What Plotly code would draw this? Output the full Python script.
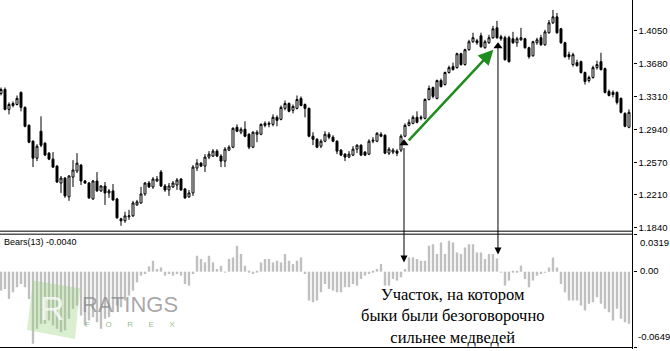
import plotly.graph_objects as go

W, H = 670, 351
def px(x):
    return x / W
def py(y):
    return 1 - y / H

# ---------------- data ----------------
opens = [1.3344,1.3389,1.3166,1.3210,1.3221,1.3356,1.3188,1.2987,1.2809,1.2619,
 1.2921,1.2786,1.2675,1.2608,1.2530,1.2340,1.2396,1.2185,1.2407,1.2475,
 1.2541,1.2363,1.2340,1.2162,1.2363,1.2252,1.2307,1.2229,1.2252,1.2162,
 1.1939,1.1917,1.1961,1.1972,1.2095,1.2117,1.2218,1.2340,1.2296,1.2363,
 1.2463,1.2307,1.2263,1.2296,1.2318,1.2385,1.2274,1.2185,1.2229,1.2508,
 1.2563,1.2530,1.2631,1.2642,1.2698,1.2642,1.2586,1.2709,1.2742,1.2965,
 1.2910,1.2943,1.2887,1.2742,1.2887,1.2887,1.2987,1.2998,1.2998,1.3077,
 1.3054,1.3177,1.3232,1.3155,1.3177,1.3289,1.3221,1.3177,1.2865,1.2831,
 1.2753,1.2809,1.2887,1.2854,1.2809,1.2709,1.2664,1.2631,1.2653,1.2720,
 1.2764,1.2687,1.2664,1.2809,1.2809,1.2887,1.2876,1.2675,1.2687,1.2698,
 1.2709,1.2865,1.2987,1.3009,1.3077,1.3065,1.3065,1.3277,1.3411,1.3289,
 1.3489,1.3444,1.3579,1.3645,1.3634,1.3790,1.3668,1.3835,1.3924,1.3935,
 1.3991,1.3857,1.3913,1.3969,1.4080,1.3980,1.3969,1.3969,1.3957,1.3913,
 1.3946,1.3957,1.3857,1.3767,1.3913,1.3969,1.3890,1.4025,1.4136,1.4203,
 1.4069,1.3913,1.3779,1.3668,1.3690,1.3701,1.3579,1.3489,1.3523,1.3634,
 1.3701,1.3623,1.3367,1.3356,1.3356,1.3289,1.3121,1.2965]

highs = [1.3411,1.3411,1.3244,1.3255,1.3322,1.3367,1.3199,1.2998,1.2820,1.2775,
 1.3088,1.2798,1.2687,1.2687,1.2541,1.2419,1.2407,1.2430,1.2597,1.2675,
 1.2553,1.2374,1.2352,1.2374,1.2463,1.2318,1.2352,1.2274,1.2329,1.2174,
 1.1950,1.2018,1.2040,1.2140,1.2151,1.2296,1.2352,1.2363,1.2407,1.2419,
 1.2486,1.2329,1.2340,1.2363,1.2396,1.2396,1.2285,1.2263,1.2541,1.2608,
 1.2575,1.2664,1.2698,1.2720,1.2720,1.2664,1.2742,1.2764,1.2965,1.2998,
 1.2965,1.3032,1.2898,1.2921,1.2932,1.3009,1.3032,1.3032,1.3110,1.3099,
 1.3210,1.3266,1.3244,1.3221,1.3322,1.3311,1.3232,1.3188,1.2910,1.2842,
 1.2831,1.2921,1.2910,1.2876,1.2820,1.2720,1.2675,1.2698,1.2753,1.2775,
 1.2775,1.2698,1.2831,1.2854,1.2910,1.2910,1.2887,1.2742,1.2731,1.2720,
 1.2887,1.3009,1.3054,1.3099,1.3144,1.3099,1.3289,1.3433,1.3422,1.3500,
 1.3511,1.3590,1.3656,1.3690,1.3801,1.3801,1.3846,1.3946,1.4025,1.3957,
 1.4025,1.3946,1.4002,1.4102,1.4158,1.4002,1.3991,1.3991,1.4035,1.3980,
 1.4080,1.3969,1.3868,1.3935,1.3969,1.4002,1.4058,1.4169,1.4281,1.4247,
 1.4080,1.3924,1.3812,1.3801,1.3723,1.3712,1.3590,1.3545,1.3656,1.3712,
 1.3801,1.3634,1.3389,1.3378,1.3367,1.3300,1.3133,1.3166]

lows = [1.3322,1.3155,1.3110,1.3188,1.3210,1.3144,1.2965,1.2786,1.2519,1.2586,
 1.2742,1.2642,1.2597,1.2508,1.2340,1.2229,1.2174,1.2140,1.2296,1.2452,
 1.2318,1.2329,1.2162,1.2151,1.2241,1.2241,1.2095,1.2174,1.2140,1.1939,
 1.1861,1.1894,1.1928,1.1961,1.2084,1.2106,1.2196,1.2285,1.2274,1.2352,
 1.2296,1.2241,1.2196,1.2285,1.2263,1.2252,1.2162,1.2174,1.2196,1.2475,
 1.2519,1.2463,1.2608,1.2631,1.2631,1.2519,1.2519,1.2698,1.2731,1.2910,
 1.2887,1.2854,1.2720,1.2731,1.2798,1.2876,1.2965,1.2965,1.2976,1.2976,
 1.3043,1.3155,1.3133,1.3121,1.3166,1.3199,1.3077,1.2854,1.2764,1.2731,
 1.2731,1.2798,1.2831,1.2798,1.2664,1.2642,1.2586,1.2619,1.2642,1.2675,
 1.2642,1.2642,1.2653,1.2786,1.2798,1.2854,1.2664,1.2653,1.2664,1.2642,
 1.2687,1.2854,1.2976,1.2998,1.3009,1.3043,1.3054,1.3266,1.3289,1.3277,
 1.3411,1.3433,1.3567,1.3601,1.3623,1.3656,1.3656,1.3824,1.3913,1.3890,
 1.3857,1.3846,1.3901,1.3957,1.3957,1.3935,1.3712,1.3690,1.3901,1.3868,
 1.3935,1.3846,1.3734,1.3756,1.3890,1.3879,1.3879,1.4013,1.4124,1.4013,
 1.3901,1.3745,1.3723,1.3645,1.3645,1.3567,1.3444,1.3467,1.3511,1.3612,
 1.3601,1.3344,1.3311,1.3300,1.3221,1.3121,1.2965,1.2954]

closes = [1.3389,1.3166,1.3221,1.3232,1.3289,1.3188,1.2976,1.2798,1.2619,1.2753,
 1.2764,1.2653,1.2608,1.2519,1.2352,1.2396,1.2196,1.2419,1.2486,1.2563,
 1.2363,1.2340,1.2174,1.2363,1.2252,1.2307,1.2229,1.2252,1.2151,1.1950,
 1.1917,1.1972,1.1972,1.2117,1.2129,1.2218,1.2340,1.2296,1.2385,1.2385,
 1.2307,1.2263,1.2307,1.2340,1.2374,1.2263,1.2174,1.2229,1.2519,1.2563,
 1.2530,1.2631,1.2664,1.2698,1.2642,1.2586,1.2720,1.2742,1.2954,1.2921,
 1.2943,1.2865,1.2742,1.2910,1.2910,1.2998,1.3009,1.3009,1.3077,1.3043,
 1.3188,1.3232,1.3144,1.3199,1.3277,1.3210,1.3177,1.2865,1.2831,1.2742,
 1.2809,1.2887,1.2854,1.2809,1.2698,1.2653,1.2631,1.2664,1.2720,1.2764,
 1.2653,1.2653,1.2809,1.2820,1.2898,1.2865,1.2675,1.2720,1.2709,1.2675,
 1.2865,1.2987,1.3021,1.3077,1.3021,1.3077,1.3277,1.3400,1.3311,1.3489,
 1.3422,1.3579,1.3634,1.3612,1.3790,1.3668,1.3835,1.3924,1.3969,1.3913,
 1.3868,1.3924,1.3969,1.4069,1.3969,1.3957,1.3723,1.3701,1.3913,1.3957,
 1.3969,1.3857,1.3756,1.3924,1.3946,1.3890,1.4035,1.4136,1.4203,1.4025,
 1.3913,1.3756,1.3756,1.3779,1.3656,1.3579,1.3478,1.3523,1.3634,1.3668,
 1.3612,1.3356,1.3322,1.3333,1.3244,1.3133,1.2976,1.3133]

bears = [-0.0163,-0.0149,-0.0235,-0.0177,-0.0134,-0.0106,-0.0134,-0.0235,-0.0621,-0.0492,
 -0.0449,-0.0449,-0.0420,-0.0463,-0.0492,-0.0521,-0.0506,-0.0406,-0.0320,-0.0292,
 -0.0378,-0.0463,-0.0420,-0.0392,-0.0435,-0.0492,-0.0406,-0.0392,-0.0349,-0.0292,
 -0.0306,-0.0249,-0.0206,-0.0163,-0.0092,-0.0034,-0.0020,0.0046,0.0094,0.0023,
 0.0037,-0.0034,-0.0020,-0.0034,-0.0020,-0.0034,-0.0106,-0.0120,-0.0020,0.0137,
 0.0109,0.0080,0.0137,0.0080,0.0023,0.0051,-0.0006,0.0109,0.0123,0.0223,
 0.0152,0.0051,0.0009,-0.0020,0.0009,0.0080,0.0109,0.0109,0.0080,0.0094,
 0.0080,0.0152,0.0094,0.0066,0.0094,0.0123,-0.0020,-0.0249,-0.0263,-0.0249,
 -0.0177,-0.0106,-0.0149,-0.0163,-0.0177,-0.0177,-0.0134,-0.0134,-0.0106,-0.0120,
 -0.0063,-0.0034,-0.0020,0.0009,0.0023,0.0066,-0.0120,-0.0120,-0.0063,-0.0077,
 -0.0049,0.0023,0.0123,0.0123,0.0109,0.0094,0.0094,0.0223,0.0237,0.0152,
 0.0252,0.0152,0.0266,0.0252,0.0166,0.0152,0.0209,0.0237,0.0237,0.0166,
 0.0166,0.0109,0.0152,0.0152,0.0114,-0.0006,-0.0120,-0.0077,0.0009,0.0009,
 0.0051,-0.0063,-0.0134,-0.0077,-0.0034,-0.0020,-0.0006,0.0037,0.0123,0.0037,
 -0.0106,-0.0177,-0.0249,-0.0249,-0.0249,-0.0292,-0.0335,-0.0277,-0.0263,-0.0220,
 -0.0277,-0.0320,-0.0349,-0.0420,-0.0320,-0.0406,-0.0435,-0.0449]

bar_index = list(range(len(opens)))

price_ticks = [1.4050, 1.3680, 1.3310, 1.2940, 1.2570, 1.2210, 1.1840]
price_tick_labels = ["1.4050", "1.3680", "1.3310", "1.2940", "1.2570", "1.2210", "1.1840"]
bears_max = 0.0319
bears_min = -0.0649
bears_title = "Bears(13) -0.0040"

signal_x = [100.75, 124.25]
signal_y = [1.2786, 1.3874]
trend_x = [101.6, 123.1]
trend_y = [1.2801, 1.3835]
note_text = "Участок, на котором<br>быки были безоговорочно<br>сильнее медведей"

# ---------------- figure ----------------
AX_RIGHT = px(632.5)
XRANGE = [-0.25, 157.88]
FONT = "Liberation Sans, Arial, sans-serif"
SP = "&nbsp;" * 7

fig = go.Figure()
fig.add_trace(go.Candlestick(
    x=bar_index, open=opens, high=highs, low=lows, close=closes,
    xaxis="x", yaxis="y",
    increasing=dict(line=dict(color="black", width=1), fillcolor="white"),
    decreasing=dict(line=dict(color="black", width=1), fillcolor="black"),
    whiskerwidth=0, showlegend=False, hoverinfo="skip"))

fig.add_trace(go.Bar(
    x=bar_index, y=bears, xaxis="x2", yaxis="y2",
    marker=dict(color="#c0c0c0", line=dict(width=0)),
    width=0.6, showlegend=False, hoverinfo="skip"))

fig.add_trace(go.Scatter(
    x=signal_x, y=signal_y, mode="markers", xaxis="x", yaxis="y",
    marker=dict(symbol="triangle-up", size=8, color="black"),
    showlegend=False, hoverinfo="skip"))

shapes = [
    dict(type="line", xref="paper", yref="paper", x0=AX_RIGHT, x1=AX_RIGHT, y0=0, y1=1,
         line=dict(color="black", width=1)),
    dict(type="line", xref="paper", yref="paper", x0=0, x1=AX_RIGHT, y0=py(232.5), y1=py(232.5),
         line=dict(color="black", width=1)),
    dict(type="line", xref="paper", yref="paper", x0=0, x1=AX_RIGHT, y0=py(235.5), y1=py(235.5),
         line=dict(color="black", width=1)),
    dict(type="line", xref="paper", yref="paper", x0=0, x1=AX_RIGHT, y0=py(349.5), y1=py(349.5),
         line=dict(color="black", width=1)),
    # watermark square
    dict(type="path", xref="paper", yref="paper",
         path="M {} {} L {} {} L {} {} L {} {} Z".format(px(33), py(282), px(80), py(290), px(75), py(341), px(27), py(332)),
         fillcolor="rgba(150,205,120,0.35)", line=dict(width=0), layer="above"),
]

annotations = [
    dict(text=bears_title, xref="paper", yref="paper", x=px(2), y=py(243), xanchor="left", yanchor="middle",
         showarrow=False, font=dict(family=FONT, size=9, color="black")),
    dict(text="0.0319", xref="paper", yref="paper", x=px(638), y=py(244), xanchor="left", yanchor="middle",
         showarrow=False, font=dict(family=FONT, size=9.5, color="black")),
    dict(text="0.00", xref="paper", yref="paper", x=px(638), y=py(272.5), xanchor="left", yanchor="middle",
         showarrow=False, font=dict(family=FONT, size=9.5, color="black")),
    dict(text="-0.0649", xref="paper", yref="paper", x=px(636), y=py(338), xanchor="left", yanchor="middle",
         showarrow=False, font=dict(family=FONT, size=9.5, color="black")),
    # watermark text
    dict(text="R", xref="paper", yref="paper", x=px(52), y=py(310), xanchor="center", yanchor="middle",
         showarrow=False, font=dict(family=FONT, size=34, color="rgba(255,255,255,0.75)")),
    dict(text="RATINGS", xref="paper", yref="paper", x=px(80), y=py(306), xanchor="left", yanchor="middle",
         showarrow=False, font=dict(family="Liberation Sans Narrow, Liberation Sans, sans-serif", size=22,
                                    color="rgba(140,140,140,0.75)")),
    dict(text="F" + SP + "O" + SP + "R" + SP + "E" + SP + "X",
         xref="paper", yref="paper", x=px(83), y=py(326), xanchor="left", yanchor="middle",
         showarrow=False, font=dict(family=FONT, size=8, color="rgba(130,170,110,0.8)")),
    # vertical arrows
    dict(text="", xref="x", yref="paper", x=signal_x[0], y=py(264), ax=0, ay=-116,
         showarrow=True, arrowhead=2, arrowsize=1.4, arrowwidth=1, arrowcolor="black"),
    dict(text="", xref="x", yref="paper", x=signal_x[1], y=py(256), ax=0, ay=-208,
         showarrow=True, arrowhead=2, arrowsize=1.4, arrowwidth=1, arrowcolor="black"),
    # green trend arrow
    dict(text="", xref="x", yref="y", x=trend_x[1], y=trend_y[1], axref="x", ayref="y",
         ax=trend_x[0], ay=trend_y[0], showarrow=True, arrowhead=2, arrowsize=1.2,
         arrowwidth=2.5, arrowcolor="#1e8c1e"),
    # note
    dict(text=note_text, xref="paper", yref="paper", x=px(452), y=py(318), xanchor="center", yanchor="middle",
         showarrow=False, align="center",
         font=dict(family="Liberation Serif, Times New Roman, serif", size=16.5, color="black")),
]

fig.update_layout(
    width=W, height=H, margin=dict(l=0, r=0, t=0, b=0),
    paper_bgcolor="white", plot_bgcolor="white",
    showlegend=False,
    xaxis=dict(domain=[0, AX_RIGHT], range=XRANGE, visible=False, anchor="y",
               rangeslider=dict(visible=False), fixedrange=True),
    xaxis2=dict(domain=[0, AX_RIGHT], range=XRANGE, visible=False, anchor="y2", fixedrange=True),
    yaxis=dict(domain=[py(232), 1], range=[1.1806, 1.4392], side="right", anchor="x",
               tickvals=price_ticks, ticktext=price_tick_labels, ticks="outside", ticklen=3,
               tickcolor="black", showgrid=False, zeroline=False, showline=False,
               tickfont=dict(family=FONT, size=9.5, color="black")),
    yaxis2=dict(domain=[py(349), py(236)], range=[bears_min, bears_max], side="right", anchor="x2",
                tickvals=[bears_max, 0, bears_min], ticks="outside", ticklen=3, tickcolor="black",
                showticklabels=False, showgrid=False, zeroline=False, showline=False),
    shapes=shapes, annotations=annotations,
)

fig.write_html("out.html")
